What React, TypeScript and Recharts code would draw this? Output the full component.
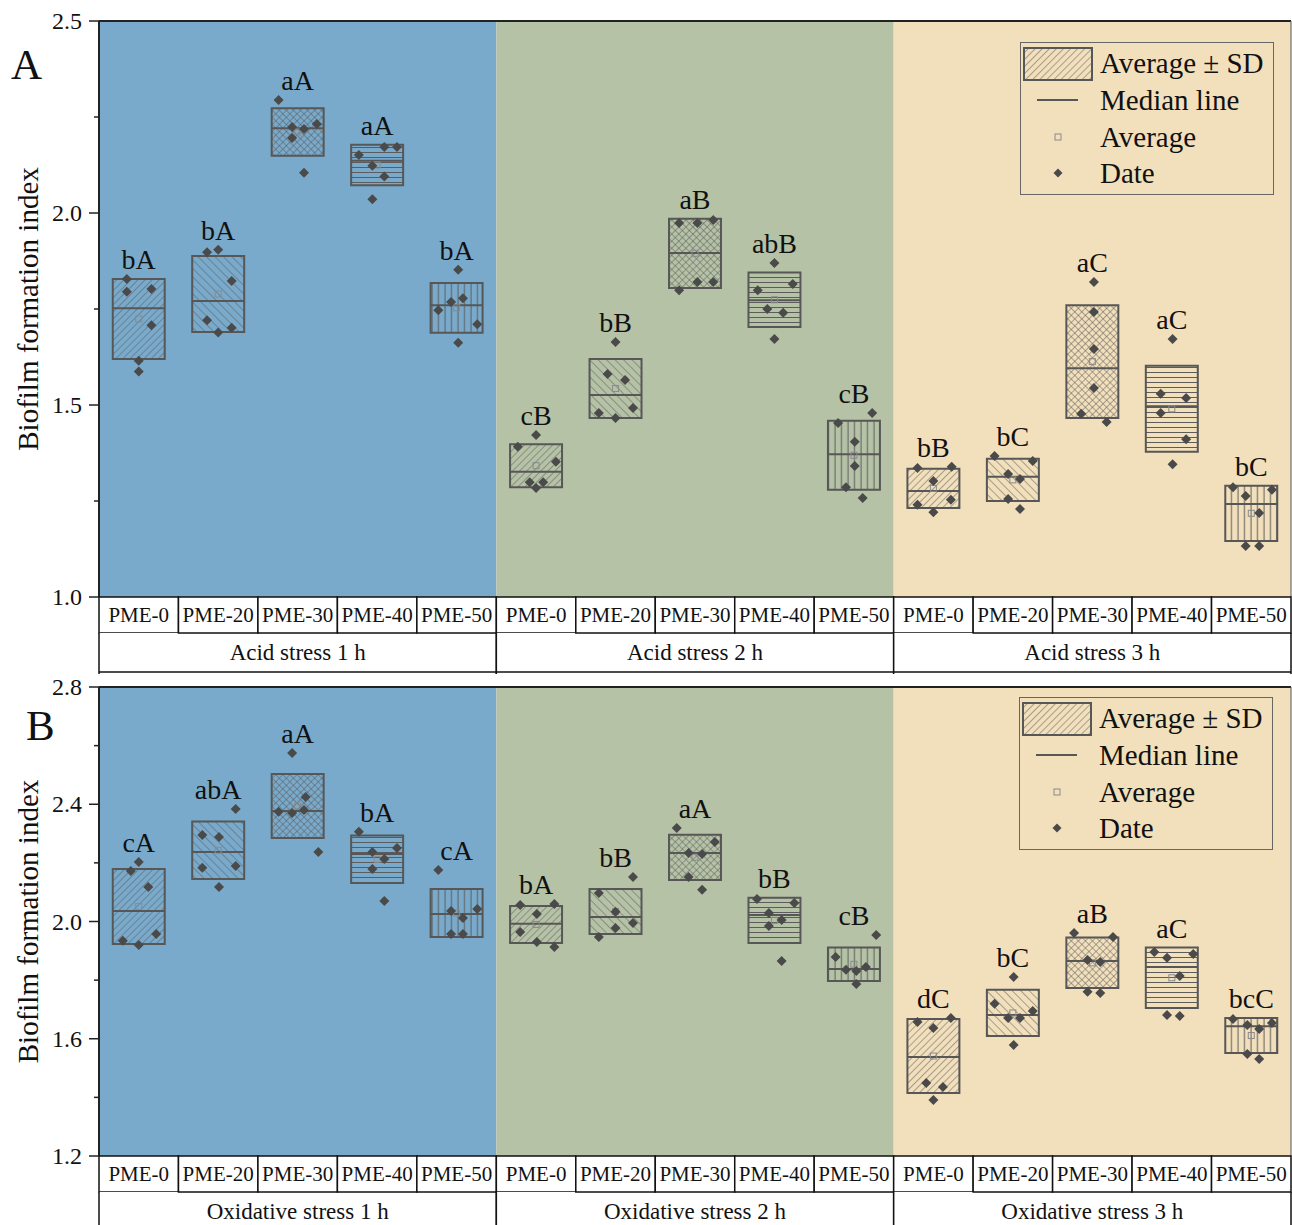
import React from 'react';
import { ComposedChart, Scatter, XAxis, YAxis, ReferenceArea, ReferenceLine, Legend } from 'recharts';

const categories = ['PME-0', 'PME-20', 'PME-30', 'PME-40', 'PME-50'];
const groupsA = ['Acid stress 1 h', 'Acid stress 2 h', 'Acid stress 3 h'];
const groupsB = ['Oxidative stress 1 h', 'Oxidative stress 2 h', 'Oxidative stress 3 h'];
const bgColors = ['#79aacb', '#b5c2a6', '#f2dfbb'];

// panel A: acid stress
const meanA = [1.724, 1.789, 2.211, 2.125, 1.753, 1.342, 1.543, 1.895, 1.774, 1.369, 1.283, 1.305, 1.613, 1.49, 1.218];
const sdA = [0.104, 0.099, 0.062, 0.053, 0.065, 0.056, 0.077, 0.09, 0.071, 0.09, 0.051, 0.055, 0.147, 0.112, 0.072];
const medianA = [1.752, 1.771, 2.221, 2.136, 1.76, 1.326, 1.526, 1.896, 1.773, 1.372, 1.276, 1.313, 1.596, 1.497, 1.242];
const lettersA = ['bA', 'bA', 'aA', 'aA', 'bA', 'cB', 'bB', 'aB', 'abB', 'cB', 'bB', 'bC', 'aC', 'aC', 'bC'];
const pointsA = [
  [1.828, 1.795, 1.802, 1.708, 1.615, 1.587],
  [1.898, 1.904, 1.823, 1.721, 1.689, 1.701],
  [2.294, 2.224, 2.219, 2.232, 2.195, 2.105],
  [2.151, 2.172, 2.172, 2.123, 2.095, 2.036],
  [1.852, 1.747, 1.768, 1.778, 1.71, 1.662],
  [1.391, 1.422, 1.352, 1.299, 1.299, 1.284],
  [1.664, 1.581, 1.565, 1.492, 1.479, 1.466],
  [1.974, 1.974, 1.982, 1.82, 1.82, 1.799],
  [1.87, 1.799, 1.815, 1.75, 1.74, 1.672],
  [1.479, 1.453, 1.404, 1.341, 1.286, 1.258],
  [1.336, 1.339, 1.302, 1.24, 1.253, 1.221],
  [1.367, 1.354, 1.32, 1.307, 1.255, 1.229],
  [1.82, 1.742, 1.646, 1.544, 1.477, 1.456],
  [1.672, 1.529, 1.518, 1.479, 1.411, 1.346],
  [1.286, 1.279, 1.263, 1.219, 1.133, 1.133],
];
const jitterA = [
  [-0.15, -0.15, 0.16, 0.16, 0, 0],
  [-0.14, 0, 0.17, -0.14, 0, 0.17],
  [-0.24, -0.07, 0.08, 0.24, -0.07, 0.08],
  [-0.23, 0.09, 0.25, -0.06, 0.09, -0.06],
  [0.02, -0.23, -0.07, 0.08, 0.26, 0.02],
  [-0.23, 0, 0.25, -0.08, 0.09, 0],
  [0, -0.1, 0.12, 0.22, -0.21, 0],
  [-0.2, 0.03, 0.23, 0.03, 0.23, -0.2],
  [0, -0.21, 0.23, -0.09, 0.11, 0],
  [0.23, -0.2, 0.01, 0.01, -0.1, 0.11],
  [-0.2, 0.23, 0, -0.2, 0.22, 0],
  [-0.23, 0.25, -0.06, 0.09, -0.06, 0.09],
  [0.02, 0.02, 0.02, 0.02, -0.14, 0.18],
  [0.01, -0.14, 0.18, -0.14, 0.18, 0.01],
  [-0.23, 0.26, -0.07, 0.1, -0.07, 0.1],
];
const ticksA = [1.0, 1.25, 1.5, 1.75, 2.0, 2.25, 2.5];
const labelTicksA = [1.0, 1.5, 2.0, 2.5];

// panel B: oxidative stress
const meanB = [2.051, 2.243, 2.394, 2.212, 2.029, 1.99, 2.034, 2.219, 2.004, 1.854, 1.541, 1.688, 1.859, 1.808, 1.611];
const sdB = [0.128, 0.098, 0.109, 0.081, 0.082, 0.063, 0.077, 0.077, 0.077, 0.057, 0.126, 0.079, 0.086, 0.103, 0.06];
const medianB = [2.036, 2.237, 2.377, 2.23, 2.026, 1.992, 2.015, 2.234, 2.022, 1.838, 1.538, 1.681, 1.865, 1.845, 1.643];
const lettersB = ['cA', 'abA', 'aA', 'bA', 'cA', 'bA', 'bB', 'aA', 'bB', 'cB', 'dC', 'bC', 'aB', 'aC', 'bcC'];
const pointsB = [
  [2.172, 2.203, 2.118, 1.934, 1.92, 1.957],
  [2.295, 2.288, 2.384, 2.183, 2.189, 2.118],
  [2.575, 2.374, 2.37, 2.38, 2.425, 2.237],
  [2.306, 2.237, 2.251, 2.213, 2.179, 2.07],
  [2.176, 2.036, 2.012, 2.043, 1.957, 1.957],
  [2.056, 2.06, 2.026, 1.964, 1.93, 1.913],
  [2.152, 2.097, 2.033, 1.995, 1.978, 1.947],
  [2.319, 2.271, 2.234, 2.23, 2.152, 2.108],
  [2.077, 2.063, 2.029, 2.005, 1.985, 1.865],
  [1.954, 1.879, 1.835, 1.831, 1.845, 1.787],
  [1.657, 1.671, 1.637, 1.449, 1.435, 1.391],
  [1.811, 1.719, 1.695, 1.671, 1.671, 1.579],
  [1.961, 1.947, 1.869, 1.862, 1.76, 1.756],
  [1.896, 1.889, 1.876, 1.814, 1.681, 1.678],
  [1.667, 1.654, 1.647, 1.633, 1.548, 1.531],
];
const jitterB = [
  [-0.1, 0, 0.12, -0.2, 0, 0.22],
  [-0.2, 0.01, 0.22, -0.2, 0.22, 0.01],
  [-0.07, -0.24, -0.07, 0.08, 0.1, 0.26],
  [-0.23, -0.06, 0.25, 0.09, -0.06, 0.09],
  [-0.23, -0.07, 0.08, 0.26, -0.07, 0.08],
  [-0.2, 0.23, 0.01, -0.2, 0.01, 0.23],
  [0.22, -0.21, 0, 0.22, 0, -0.21],
  [-0.23, 0.25, -0.08, 0.09, -0.08, 0.09],
  [-0.22, 0.25, -0.07, 0.09, -0.07, 0.09],
  [0.28, -0.23, -0.1, 0.03, 0.15, 0.03],
  [-0.2, 0.22, 0, -0.09, 0.12, 0],
  [0.01, -0.23, 0.25, -0.06, 0.09, 0.01],
  [-0.23, 0.26, -0.06, 0.1, -0.06, 0.1],
  [-0.22, 0.27, -0.06, 0.1, -0.06, 0.1],
  [-0.23, 0.26, -0.05, 0.1, -0.05, 0.1],
];
const ticksB = [1.2, 1.4, 1.6, 1.8, 2.0, 2.2, 2.4, 2.6, 2.8];
const labelTicksB = [1.2, 1.6, 2.0, 2.4, 2.8];

const FONT = "'Liberation Serif', 'Times New Roman', serif";
const W = 1292;
const Y_AXIS_W = 99;
const PLOT_W = W - Y_AXIS_W - 1;
const CELL_W = PLOT_W / 15;
const BOX_HALF = 0.327;
const BOX_STROKE = '#575757';
const HATCH = '#5c5c5c';
const xTicks = Array.from({ length: 15 }, (_, i) => i + 0.5);

function Patterns({ id }: { id: string }) {
  return (
    <defs>
      <pattern id={`${id}-p0`} patternUnits="userSpaceOnUse" width="5" height="5" patternTransform="rotate(45)">
        <line x1="0" y1="0" x2="0" y2="5" stroke={HATCH} strokeWidth="1" />
      </pattern>
      <pattern id={`${id}-p1`} patternUnits="userSpaceOnUse" width="6" height="6" patternTransform="rotate(-45)">
        <line x1="0" y1="0" x2="0" y2="6" stroke={HATCH} strokeWidth="1" />
      </pattern>
      <pattern id={`${id}-p2`} patternUnits="userSpaceOnUse" width="5" height="5" patternTransform="rotate(45)">
        <line x1="0" y1="0" x2="0" y2="5" stroke={HATCH} strokeWidth="1" />
        <line x1="0" y1="0" x2="5" y2="0" stroke={HATCH} strokeWidth="1" />
      </pattern>
      <pattern id={`${id}-p3`} patternUnits="userSpaceOnUse" width="6" height="5">
        <line x1="0" y1="2.5" x2="6" y2="2.5" stroke={HATCH} strokeWidth="1" />
      </pattern>
      <pattern id={`${id}-p4`} patternUnits="userSpaceOnUse" width="6.5" height="6">
        <line x1="3" y1="0" x2="3" y2="6" stroke={HATCH} strokeWidth="1" />
      </pattern>
    </defs>
  );
}

function buildPanel(mean: number[], sd: number[], pts: number[][], jit: number[][], letters: string[]) {
  const points: { x: number; y: number }[] = [];
  const avgs: { x: number; y: number }[] = [];
  const tags: { x: number; y: number; text: string }[] = [];
  mean.forEach((m, i) => {
    const c = i + 0.5;
    pts[i].forEach((v, k) => points.push({ x: c + jit[i][k], y: v }));
    avgs.push({ x: c, y: m });
    tags.push({ x: c, y: Math.max(m + sd[i], ...pts[i]), text: letters[i] });
  });
  return { points, avgs, tags };
}

const Diamond = (p: any) => {
  const { cx, cy } = p;
  const r = 5;
  return <polygon points={`${cx},${cy - r} ${cx + r},${cy} ${cx},${cy + r} ${cx - r},${cy}`} fill="#4a4a4a" />;
};

const AvgSquare = (p: any) => (
  <rect x={p.cx - 3} y={p.cy - 3} width={6} height={6} fill="none" stroke="#8a8a8a" strokeWidth={1} />
);

const TagText = (p: any) => (
  <text x={p.cx} y={p.cy - 10} textAnchor="middle" fontFamily={FONT} fontSize={28} fill="#111">
    {p.payload.text}
  </text>
);

function makeXTick(groups: string[], row2: number, closeBottom: boolean) {
  return (p: any) => {
    const { x, y, index } = p;
    const left = x - CELL_W / 2;
    const row1 = 36;
    const cat = categories[index % 5];
    const gi = Math.floor(index / 5);
    return (
      <g>
        <rect x={left} y={y} width={CELL_W} height={row1} fill="#fff" stroke="#111" strokeWidth={1.5} />
        <text x={x} y={y + row1 / 2 + 7} textAnchor="middle" fontFamily={FONT} fontSize={21} fill="#111">
          {cat}
        </text>
        {index % 5 === 0 && (
          <g>
            <rect x={left} y={y + row1} width={CELL_W * 5} height={row2 + 2} fill="#fff" stroke="none" />
            <line x1={left} y1={y + row1} x2={left} y2={y + row1 + row2 + 2} stroke="#111" strokeWidth={1.5} />
            <line x1={left + CELL_W * 5} y1={y + row1} x2={left + CELL_W * 5} y2={y + row1 + row2 + 2} stroke="#111" strokeWidth={1.5} />
            {closeBottom && (
              <line x1={left} y1={y + row1 + row2} x2={left + CELL_W * 5} y2={y + row1 + row2} stroke="#111" strokeWidth={1.5} />
            )}
            <text x={left + (CELL_W * 5) / 2} y={y + row1 + 27} textAnchor="middle" fontFamily={FONT} fontSize={23} fill="#111">
              {groups[gi]}
            </text>
          </g>
        )}
      </g>
    );
  };
}

function makeYTick(labelled: number[]) {
  return (p: any) => {
    const { x, y, payload } = p;
    const major = labelled.some((v) => Math.abs(v - payload.value) < 1e-6);
    return (
      <g>
        <line x1={x - (major ? 10 : 5)} y1={y} x2={x} y2={y} stroke="#222" strokeWidth={1.5} />
        {major && (
          <text x={x - 17} y={y + 8} textAnchor="end" fontFamily={FONT} fontSize={24} fill="#111">
            {payload.value.toFixed(1)}
          </text>
        )}
      </g>
    );
  };
}

function LegendBox({ id }: { id: string }) {
  const rows = [21, 58, 95, 131];
  return (
    <svg width={254} height={153} style={{ display: 'block' }}>
      <defs>
        <pattern id={`${id}-leg`} patternUnits="userSpaceOnUse" width="5" height="5" patternTransform="rotate(45)">
          <line x1="0" y1="0" x2="0" y2="5" stroke={HATCH} strokeWidth="1" />
        </pattern>
      </defs>
      <rect x={0.5} y={0.5} width={253} height={152} fill="none" stroke="#666" strokeWidth={1} />
      <rect x={4} y={6} width={68} height={32} fill={`url(#${id}-leg)`} stroke={BOX_STROKE} strokeWidth={2} />
      <line x1={17} y1={rows[1]} x2={58} y2={rows[1]} stroke={BOX_STROKE} strokeWidth={2} />
      <rect x={35} y={rows[2] - 3} width={6} height={6} fill="none" stroke="#8a8a8a" strokeWidth={1} />
      <polygon points={`38,${rows[3] - 4.5} 42.5,${rows[3]} 38,${rows[3] + 4.5} 33.5,${rows[3]}`} fill="#4a4a4a" />
      {['Average \u00b1 SD', 'Median line', 'Average', 'Date'].map((t, i) => (
        <text key={t} x={80} y={rows[i] + 10} fontFamily={FONT} fontSize={29} fill="#111">
          {t}
        </text>
      ))}
    </svg>
  );
}

interface PanelProps {
  id: string;
  letter: string;
  letterPos: [number, number];
  height: number;
  top: number;
  bottom: number;
  row2: number;
  closeBottom: boolean;
  domain: [number, number];
  ticks: number[];
  labelled: number[];
  mean: number[];
  sd: number[];
  median: number[];
  pts: number[][];
  jit: number[][];
  letters: string[];
  groups: string[];
  legendTop: number;
  legendLeft: number;
}

function Panel(props: PanelProps) {
  const { id, mean, sd, median } = props;
  const { points, avgs, tags } = buildPanel(mean, sd, props.pts, props.jit, props.letters);
  return (
    <ComposedChart
      width={W}
      height={props.height}
      margin={{ top: props.top, right: 1, left: 0, bottom: props.bottom }}
    >
      <Patterns id={id} />
      <XAxis
        type="number"
        dataKey="x"
        domain={[0, 15]}
        ticks={xTicks}
        interval={0}
        height={36 + props.row2}
        axisLine={false}
        tickLine={false}
        tickSize={0}
        tickMargin={0}
        tick={makeXTick(props.groups, props.row2, props.closeBottom)}
      />
      <YAxis
        type="number"
        dataKey="y"
        domain={props.domain}
        ticks={props.ticks}
        interval={0}
        width={Y_AXIS_W}
        axisLine={false}
        tickLine={false}
        tickSize={0}
        tickMargin={0}
        tick={makeYTick(props.labelled)}
        label={{
          content: (lp: any) => {
            const vb = lp.viewBox || { x: 0, y: props.top, width: Y_AXIS_W, height: 0 };
            const cy = vb.y + vb.height / 2;
            return (
              <g>
                <text
                  x={28}
                  y={cy}
                  transform={`rotate(-90 28 ${cy})`}
                  textAnchor="middle"
                  dominantBaseline="central"
                  fontFamily={FONT}
                  fontSize={29}
                  fill="#111"
                >
                  Biofilm formation index
                </text>
                <text x={props.letterPos[0]} y={props.letterPos[1]} fontFamily={FONT} fontSize={43} fill="#111">
                  {props.letter}
                </text>
              </g>
            );
          },
        }}
      />
      {[0, 1, 2].map((g) => (
        <ReferenceArea key={`bg${g}`} x1={g * 5} x2={g * 5 + 5} y1={props.domain[0]} y2={props.domain[1]} fill={bgColors[g]} fillOpacity={1} stroke="none" />
      ))}
      {mean.map((m, i) => (
        <ReferenceArea
          key={`box${i}`}
          x1={i + 0.5 - BOX_HALF}
          x2={i + 0.5 + BOX_HALF}
          y1={m - sd[i]}
          y2={m + sd[i]}
          fill={`url(#${id}-p${i % 5})`}
          fillOpacity={1}
          stroke={BOX_STROKE}
          strokeWidth={2}
        />
      ))}
      {median.map((v, i) => (
        <ReferenceLine
          key={`med${i}`}
          segment={[
            { x: i + 0.5 - BOX_HALF, y: v },
            { x: i + 0.5 + BOX_HALF, y: v },
          ]}
          stroke={BOX_STROKE}
          strokeWidth={2}
        />
      ))}
      <ReferenceLine y={props.domain[1]} stroke="#222" strokeWidth={2} />
      <ReferenceLine x={15} stroke="#555" strokeWidth={1} />
      <ReferenceLine x={0} stroke="#222" strokeWidth={2} />
      <Scatter data={avgs} shape={AvgSquare} isAnimationActive={false} legendType="none" />
      <Scatter data={points} shape={Diamond} isAnimationActive={false} legendType="none" />
      <Scatter data={tags} shape={TagText} isAnimationActive={false} legendType="none" />
      <Legend
        layout="vertical"
        align="center"
        verticalAlign="middle"
        wrapperStyle={{ left: props.legendLeft, top: props.legendTop, width: 254, height: 153 }}
        content={() => <LegendBox id={id} />}
      />
    </ComposedChart>
  );
}

export default function App() {
  return (
    <div style={{ position: 'absolute', left: 0, top: 0, width: W, height: 1225, overflow: 'hidden', background: '#fff' }}>
      <Panel
        id="pa"
        letter="A"
        letterPos={[11, 79]}
        height={675}
        top={21}
        bottom={3}
        row2={39}
        closeBottom
        domain={[1.0, 2.5]}
        ticks={ticksA}
        labelled={labelTicksA}
        mean={meanA}
        sd={sdA}
        median={medianA}
        pts={pointsA}
        jit={jitterA}
        letters={lettersA}
        groups={groupsA}
        legendTop={42}
        legendLeft={1020}
      />
      <Panel
        id="pb"
        letter="B"
        letterPos={[26, 65]}
        height={550}
        top={12}
        bottom={0}
        row2={33}
        closeBottom={false}
        domain={[1.2, 2.8]}
        ticks={ticksB}
        labelled={labelTicksB}
        mean={meanB}
        sd={sdB}
        median={medianB}
        pts={pointsB}
        jit={jitterB}
        letters={lettersB}
        groups={groupsB}
        legendTop={22}
        legendLeft={1019}
      />
    </div>
  );
}
